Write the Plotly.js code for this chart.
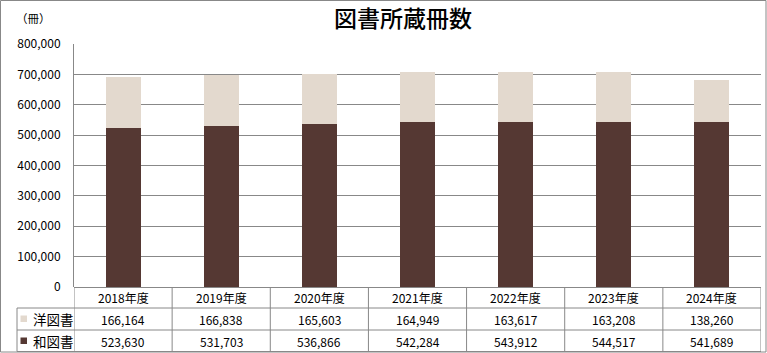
<!DOCTYPE html>
<html>
<head>
<meta charset="utf-8">
<script src="https://cdn.plot.ly/plotly-3.0.1.min.js"></script>
<style>
html,body{margin:0;padding:0;background:#fff;}
#chart{width:767px;height:353px;}
</style>
</head>
<body>
<div id="chart"></div>
<script>
// ---- data ----
const years = ['2018年度','2019年度','2020年度','2021年度','2022年度','2023年度','2024年度'];
const westernBooks = [166164,166838,165603,164949,163617,163208,138260];
const japaneseBooks = [523630,531703,536866,542284,543912,544517,541689];
const seriesNames = ['洋図書','和図書'];
const yTicks = [0,100000,200000,300000,400000,500000,600000,700000,800000];

// ---- layout helpers (pixel -> paper) ----
const L = 74, R = 761, T = 44, B = 287;
const PW = R - L, PH = B - T;
const px = x => (x - L) / PW;
const py = y => (B - y) / PH;

const cBrown = '#553833';
const cBeige = '#E3D9CE';
const cLine = '#888888';
const font = '"Noto Sans CJK JP", "Noto Sans", sans-serif';

const traces = [
  {type:'bar', name:seriesNames[1], x:years, y:japaneseBooks, marker:{color:cBrown}, hoverinfo:'skip'},
  {type:'bar', name:seriesNames[0], x:years, y:westernBooks, marker:{color:cBeige}, hoverinfo:'skip'}
];

const rowY = {head: 297.5, west: 319, jap: 341};
const lines = {h1: 308, h2: 330, h3: 351.5, legL: 17};

const shapes = [];
const line = (x0,y0,x1,y1,xref) => shapes.push({type:'line', xref:xref||'paper', yref:'paper', x0:x0, x1:x1, y0:y0, y1:y1, line:{color:cLine, width:1}});
// outer border
shapes.push({type:'rect', xref:'paper', yref:'paper', x0:px(0.5), x1:px(766), y0:py(0.5), y1:py(352), line:{color:cLine, width:1}, fillcolor:'rgba(0,0,0,0)'});
// table horizontal lines
line(px(lines.legL), py(lines.h1), px(R), py(lines.h1));
line(px(lines.legL), py(lines.h2), px(R), py(lines.h2));
line(px(lines.legL), py(lines.h3), px(R), py(lines.h3));
// legend column left
line(px(lines.legL), py(lines.h1), px(lines.legL), py(lines.h3));
// column separators
for (let i = 0; i <= years.length; i++) {
  line(i - 0.5, py(B), i - 0.5, py(lines.h3), 'x');
}
// legend swatches
shapes.push({type:'rect', xref:'paper', yref:'paper', x0:px(20.5), x1:px(27), y0:py(315.5), y1:py(322), fillcolor:cBeige, line:{width:0}});
shapes.push({type:'rect', xref:'paper', yref:'paper', x0:px(20.5), x1:px(27), y0:py(337.5), y1:py(344), fillcolor:cBrown, line:{width:0}});

const annotations = [];
const fmt = v => v.toLocaleString('en-US');
years.forEach((yr, i) => {
  annotations.push({x:yr, xref:'x', y:py(rowY.head), yref:'paper', text:yr, showarrow:false, xanchor:'center', yanchor:'middle', font:{family:font, size:12, color:'#000'}});
  annotations.push({x:yr, xref:'x', y:py(rowY.west), yref:'paper', text:fmt(westernBooks[i]), showarrow:false, xanchor:'center', yanchor:'middle', font:{family:font, size:12, color:'#000'}});
  annotations.push({x:yr, xref:'x', y:py(rowY.jap), yref:'paper', text:fmt(japaneseBooks[i]), showarrow:false, xanchor:'center', yanchor:'middle', font:{family:font, size:12, color:'#000'}});
});
annotations.push({x:px(31), xref:'paper', y:py(rowY.west), yref:'paper', text:seriesNames[0], showarrow:false, xanchor:'left', yanchor:'middle', font:{family:font, size:13.5, color:'#000'}});
annotations.push({x:px(31), xref:'paper', y:py(rowY.jap), yref:'paper', text:seriesNames[1], showarrow:false, xanchor:'left', yanchor:'middle', font:{family:font, size:13.5, color:'#000'}});
annotations.push({x:px(14), xref:'paper', y:py(18), yref:'paper', text:'（冊）', showarrow:false, xanchor:'left', yanchor:'middle', font:{family:font, size:11.5, color:'#000'}});

const layout = {
  width:767, height:353,
  margin:{l:L, r:767-R, t:T, b:353-B, pad:0},
  paper_bgcolor:'#fff', plot_bgcolor:'#fff',
  showlegend:false,
  barmode:'stack',
  bargap:0.643,
  title:{text:'図書所蔵冊数', x:403/767, xref:'container', xanchor:'center', y:1-19/353, yref:'container', yanchor:'middle', font:{family:font, size:23, weight:500, color:'#000'}},
  xaxis:{type:'category', range:[-0.5, years.length-0.5], showticklabels:false, ticks:'', showgrid:false, zeroline:false, showline:false, fixedrange:true},
  yaxis:{range:[0,800000], tickvals:yTicks, tickformat:',d', showgrid:true, gridcolor:cLine, gridwidth:1, zeroline:true, zerolinecolor:cLine, zerolinewidth:1, showline:true, linecolor:cLine, linewidth:1, ticks:'', ticklabelstandoff:10, tickfont:{family:font, size:12, color:'#000'}, fixedrange:true},
  shapes:shapes,
  annotations:annotations
};

Plotly.newPlot('chart', traces, layout, {staticPlot:true, displayModeBar:false});
</script>
</body>
</html>
